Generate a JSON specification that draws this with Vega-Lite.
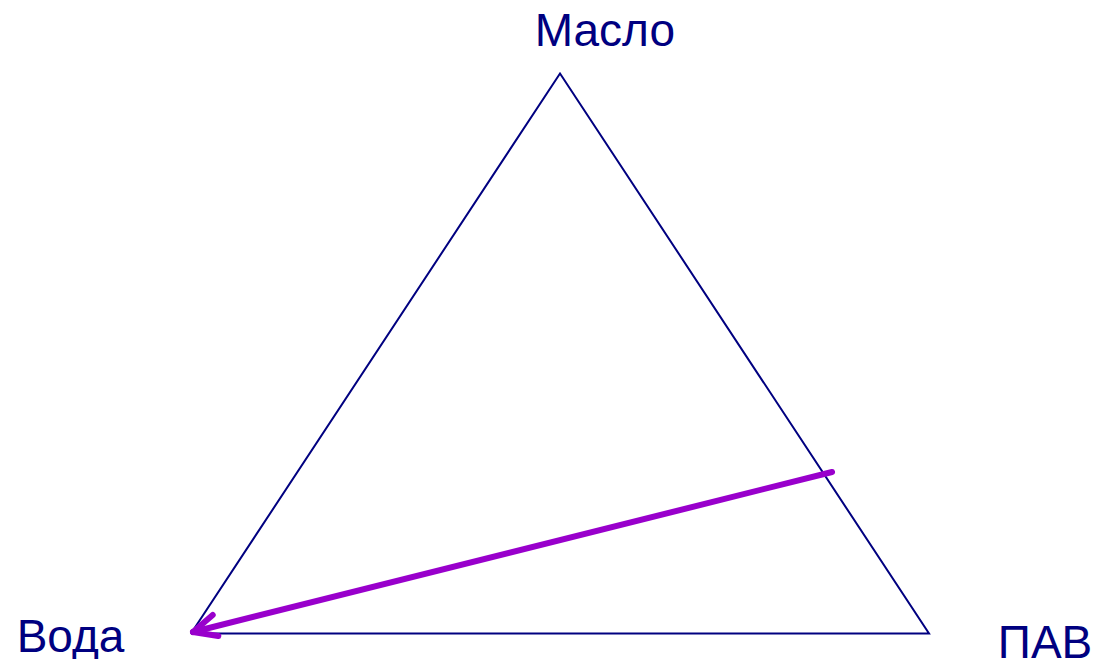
{
  "$schema": "https://vega.github.io/schema/vega-lite/v6.json",
  "width": 1097,
  "height": 659,
  "autosize": {"type": "none"},
  "padding": 0,
  "background": "white",
  "config": {"view": {"stroke": null}},
  "layer": [
    {
      "data": {"values": [
        {"i": 0, "x": 0, "y": 0},
        {"i": 1, "x": 0.5, "y": 1},
        {"i": 2, "x": 1, "y": 0},
        {"i": 3, "x": 0, "y": 0}
      ]},
      "mark": {"type": "line", "color": "#000080", "strokeWidth": 2, "clip": false},
      "encoding": {
        "x": {"field": "x", "type": "quantitative", "scale": {"domain": [-0.2588, 1.2276], "nice": false, "zero": false}, "axis": null},
        "y": {"field": "y", "type": "quantitative", "scale": {"domain": [-0.04554, 1.13125], "nice": false, "zero": false}, "axis": null},
        "order": {"field": "i", "type": "quantitative"}
      }
    },
    {
      "data": {"values": [
        {"seg": "shaft", "i": 0, "x": 0.8686, "y": 0.2884},
        {"seg": "shaft", "i": 1, "x": 0.0027, "y": 0.0027},
        {"seg": "up", "i": 0, "x": 0.0294, "y": 0.0330},
        {"seg": "up", "i": 1, "x": 0.0027, "y": 0.0027},
        {"seg": "down", "i": 0, "x": 0.0370, "y": -0.0045},
        {"seg": "down", "i": 1, "x": 0.0027, "y": 0.0027}
      ]},
      "mark": {"type": "line", "color": "#9900CC", "strokeWidth": 6, "strokeCap": "round", "strokeJoin": "round", "clip": false},
      "encoding": {
        "x": {"field": "x", "type": "quantitative"},
        "y": {"field": "y", "type": "quantitative"},
        "detail": {"field": "seg", "type": "nominal"},
        "order": {"field": "i", "type": "quantitative"}
      }
    },
    {
      "data": {"values": [
        {"label": "Масло", "x": 0.5607, "y": 1.0491},
        {"label": "Вода", "x": -0.1633, "y": -0.0331},
        {"label": "ПАВ", "x": 1.1572, "y": -0.0446}
      ]},
      "mark": {"type": "text", "color": "#000080", "font": "Liberation Sans", "fontSize": 46, "align": "center", "baseline": "alphabetic", "clip": false},
      "encoding": {
        "x": {"field": "x", "type": "quantitative"},
        "y": {"field": "y", "type": "quantitative"},
        "text": {"field": "label", "type": "nominal"}
      }
    }
  ]
}
